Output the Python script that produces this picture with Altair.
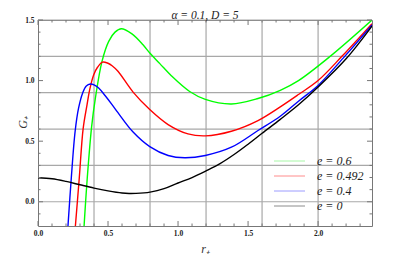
import altair as alt
import pandas as pd

title_text = "α = 0.1,  D = 5"
labels = ["e = 0.6", "e = 0.492", "e = 0.4", "e = 0"]
colors = ["#00ff00", "#ff0000", "#0000ff", "#000000"]
legend_colors = ["#a6f7a6", "#ff8c8c", "#9c9cff", "#8c8c8c"]

x_e06 = [0.329, 0.34, 0.352, 0.383, 0.41, 0.457, 0.505, 0.55, 0.595, 0.671, 0.75, 0.8, 0.87, 0.952, 1.083, 1.195, 1.381, 1.571, 1.73, 1.86, 2.086, 2.385]
y_e06 = [-0.2, 0.0, 0.2, 0.62, 0.857, 1.159, 1.324, 1.40, 1.428, 1.385, 1.295, 1.225, 1.14, 1.04, 0.91, 0.845, 0.807, 0.852, 0.92, 1.0, 1.2, 1.5]

x_e0492 = [0.267, 0.295, 0.322, 0.35, 0.37, 0.398, 0.425, 0.46, 0.5, 0.529, 0.571, 0.679, 0.798, 0.929, 1.071, 1.195, 1.381, 1.571, 1.73, 1.86, 2.0, 2.17, 2.385]
y_e0492 = [-0.2, 0.2, 0.6, 0.80, 0.93, 1.049, 1.11, 1.153, 1.143, 1.123, 1.077, 0.905, 0.761, 0.637, 0.56, 0.544, 0.582, 0.67, 0.783, 0.885, 1.0, 1.2, 1.47]

x_e04 = [0.214, 0.238, 0.265, 0.29, 0.319, 0.345, 0.374, 0.40, 0.433, 0.48, 0.53, 0.571, 0.679, 0.798, 0.929, 1.048, 1.195, 1.381, 1.571, 1.73, 1.86, 2.0, 2.19, 2.385]
y_e04 = [-0.2, 0.2, 0.58, 0.774, 0.898, 0.955, 0.972, 0.965, 0.939, 0.875, 0.80, 0.735, 0.575, 0.455, 0.382, 0.363, 0.382, 0.45, 0.588, 0.706, 0.83, 0.96, 1.2, 1.46]

x_e0 = [0.0, 0.1, 0.2, 0.3, 0.4, 0.5, 0.6, 0.65, 0.7, 0.8, 0.9, 1.0, 1.1, 1.2, 1.3, 1.4, 1.5, 1.6, 1.73, 1.86, 2.0, 2.2, 2.385]
y_e0 = [0.198, 0.19, 0.168, 0.14, 0.113, 0.09, 0.072, 0.068, 0.069, 0.08, 0.108, 0.155, 0.2, 0.255, 0.315, 0.39, 0.475, 0.565, 0.68, 0.80, 0.947, 1.18, 1.45]

grid_x = [0.4, 0.8, 1.2, 1.6, 2.0]
grid_y = [0.0, 0.3, 0.6, 0.9, 1.2, 1.5]
xtick_major = [0.0, 0.5, 1.0, 1.5, 2.0]
xtick_minor = [0.1, 0.2, 0.3, 0.4, 0.6, 0.7, 0.8, 0.9, 1.1, 1.2, 1.3, 1.4, 1.6, 1.7, 1.8, 1.9, 2.1, 2.2, 2.3]
ytick_major = [0.0, 0.5, 1.0, 1.5]
ytick_minor = [-0.1, 0.1, 0.2, 0.3, 0.4, 0.6, 0.7, 0.8, 0.9, 1.1, 1.2, 1.3, 1.4]

rows = []
for lab, xs_, ys_ in zip(labels, [x_e06, x_e0492, x_e04, x_e0], [y_e06, y_e0492, y_e04, y_e0]):
    for a, b in zip(xs_, ys_):
        rows.append({"r": a, "G": b, "series": lab})
df = pd.DataFrame(rows)

W, H = 334, 206
FRAME = "#777777"
GRID = "#a8a8a8"
SERIF = "Liberation Serif"

xs = alt.Scale(domain=[0, 2.385], nice=False, zero=False)
ys = alt.Scale(domain=[-0.2, 1.5], nice=False, zero=False)

x_axis = alt.Axis(
    values=xtick_major, format=".1f", labelFont=SERIF, labelFontWeight="bold",
    labelFontSize=7.5, labelColor="#222", ticks=False, domain=False, grid=False,
    labelPadding=3, labelFlush=False, title="r₊", titleFont=SERIF, titleFontStyle="italic",
    titleFontWeight="normal", titleFontSize=12, titleColor="#333", titleX=167, titleY=22,
    titleBaseline="middle", titleAlign="center")
y_axis = alt.Axis(
    values=ytick_major, format=".1f", labelFont=SERIF, labelFontWeight="bold",
    labelFontSize=7.5, labelColor="#222", ticks=False, domain=False, grid=False,
    labelPadding=4, labelFlush=False, title="G₊", titleFont=SERIF, titleFontStyle="italic",
    titleFontWeight="normal", titleFontSize=12, titleColor="#333", titleAngle=270,
    titleX=-16, titleY=102, titleBaseline="middle", titleAlign="center")

gx = alt.Chart(pd.DataFrame({"v": grid_x})).mark_rule(color=GRID, strokeWidth=1.2).encode(
    x=alt.X("v:Q", scale=xs, axis=x_axis, title="r₊"))
gy = alt.Chart(pd.DataFrame({"v": grid_y})).mark_rule(color=GRID, strokeWidth=1.2).encode(
    y=alt.Y("v:Q", scale=ys, axis=y_axis, title="G₊"))

lines = alt.Chart(df).mark_line(interpolate="catmull-rom", strokeWidth=1.4, clip=True).encode(
    x=alt.X("r:Q", scale=xs, axis=x_axis, title="r₊"),
    y=alt.Y("G:Q", scale=ys, axis=y_axis, title="G₊"),
    color=alt.Color("series:N", scale=alt.Scale(domain=labels, range=colors), legend=None),
    detail="series:N",
)

def xticks(vals, length):
    d = pd.DataFrame({"v": vals})
    bot = alt.Chart(d).mark_rule(color=FRAME, strokeWidth=1).encode(
        x=alt.X("v:Q", scale=xs, axis=x_axis, title="r₊"), y=alt.value(H), y2=alt.value(H - length))
    top = alt.Chart(d).mark_rule(color=FRAME, strokeWidth=1).encode(
        x=alt.X("v:Q", scale=xs, axis=x_axis, title="r₊"), y=alt.value(0), y2=alt.value(length))
    return [bot, top]

def yticks(vals, length):
    d = pd.DataFrame({"v": vals})
    left = alt.Chart(d).mark_rule(color=FRAME, strokeWidth=1).encode(
        y=alt.Y("v:Q", scale=ys, axis=y_axis, title="G₊"), x=alt.value(0), x2=alt.value(length))
    right = alt.Chart(d).mark_rule(color=FRAME, strokeWidth=1).encode(
        y=alt.Y("v:Q", scale=ys, axis=y_axis, title="G₊"), x=alt.value(W), x2=alt.value(W - length))
    return [left, right]

# manual legend (guide only)
LEG_X0, LEG_X1, LEG_TX, LEG_Y0, LEG_DY = 236, 267, 279, 141, 15
legend_layers = []
for i, (lab, col) in enumerate(zip(labels, legend_colors)):
    d = pd.DataFrame({"label": [lab], "k": [i]})
    yc = LEG_Y0 + i * LEG_DY
    legend_layers.append(alt.Chart(d).mark_rule(strokeWidth=1, opacity=1).encode(
        x=alt.value(LEG_X0), x2=alt.value(LEG_X1), y=alt.value(yc), color=alt.value(col)))
    legend_layers.append(alt.Chart(d).mark_text(
        font=SERIF, fontStyle="italic", fontSize=12, color="#222", align="left",
        baseline="middle").encode(x=alt.value(LEG_TX), y=alt.value(yc), text="label:N"))

title_layer = alt.Chart(pd.DataFrame({"t": [title_text]})).mark_text(
    font=SERIF, fontStyle="italic", fontSize=11.5, color="#222", align="center",
    baseline="alphabetic").encode(x=alt.value(W / 2), y=alt.value(-1.5), text="t:N")

chart = alt.layer(
    gx, gy, lines,
    *xticks(xtick_major, 5), *xticks(xtick_minor, 2.5),
    *yticks(ytick_major, 5), *yticks(ytick_minor, 2.5),
    *legend_layers, title_layer,
).properties(
    width=W, height=H,
    autosize=alt.AutoSizeParams(type="none"),
    padding={"left": 30, "top": 12, "right": 35, "bottom": 30},
).configure_view(stroke=FRAME, strokeWidth=1)

chart.save("out.html", embed_options={"renderer": "svg", "actions": False})
